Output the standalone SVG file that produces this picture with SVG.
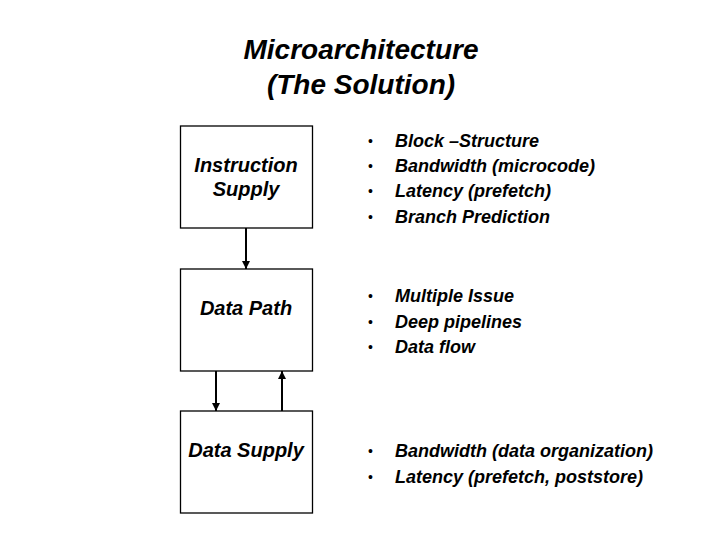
<svg xmlns="http://www.w3.org/2000/svg" width="720" height="540" viewBox="0 0 720 540">
<style>
.t{font-family:"Liberation Sans",Arial,sans-serif;font-weight:bold;font-style:italic;fill:#000}
.title{font-size:28px;text-anchor:middle}
.lbl{font-size:20px;text-anchor:middle}
.item{font-size:18px}
.bul{font-family:"Liberation Sans",Arial,sans-serif;font-size:14px;fill:#000}
.box{fill:#fff;stroke:#000;stroke-width:1.3}
.conn{stroke:#000;stroke-width:2;fill:none;marker-end:url(#ah)}
</style>
<defs>
<marker id="ah" viewBox="0 0 10 10" refX="10" refY="5" markerWidth="4.5" markerHeight="4" orient="auto" markerUnits="strokeWidth">
<path d="M0,0 L10,5 L0,10 z" fill="#000"/>
</marker>
</defs>
<rect width="720" height="540" fill="#fff"/>
<g id="title">
<text class="t title" x="361" y="59">Microarchitecture</text>
<text class="t title" x="361" y="94">(The Solution)</text>
</g>
<g id="instruction-supply">
<rect class="box" x="180.5" y="126" width="132" height="102"/>
<text class="t lbl" x="246" y="172">Instruction</text>
<text class="t lbl" x="246" y="196">Supply</text>
</g>
<g id="data-path">
<rect class="box" x="180.5" y="269" width="132" height="102"/>
<text class="t lbl" x="246" y="315">Data Path</text>
</g>
<g id="data-supply">
<rect class="box" x="180.5" y="411" width="132" height="102"/>
<text class="t lbl" x="246" y="457">Data Supply</text>
</g>
<g id="connectors">
<line class="conn" x1="246" y1="228" x2="246" y2="269"/>
<line class="conn" x1="216" y1="371" x2="216" y2="411"/>
<line class="conn" x1="282" y1="411" x2="282" y2="371"/>
</g>
<g id="list-instruction">
<text class="bul" x="368" y="146">•</text>
<text class="bul" x="368" y="171">•</text>
<text class="bul" x="368" y="196">•</text>
<text class="bul" x="368" y="222">•</text>
<text class="t item" x="395" y="147">Block –Structure</text>
<text class="t item" x="395" y="172">Bandwidth (microcode)</text>
<text class="t item" x="395" y="197">Latency (prefetch)</text>
<text class="t item" x="395" y="223">Branch Prediction</text>
</g>
<g id="list-datapath">
<text class="bul" x="368" y="301">•</text>
<text class="bul" x="368" y="327">•</text>
<text class="bul" x="368" y="352">•</text>
<text class="t item" x="395" y="302">Multiple Issue</text>
<text class="t item" x="395" y="328">Deep pipelines</text>
<text class="t item" x="395" y="353">Data flow</text>
</g>
<g id="list-datasupply">
<text class="bul" x="368" y="456">•</text>
<text class="bul" x="368" y="482">•</text>
<text class="t item" x="395" y="457">Bandwidth (data organization)</text>
<text class="t item" x="395" y="483">Latency (prefetch, poststore)</text>
</g>
</svg>
